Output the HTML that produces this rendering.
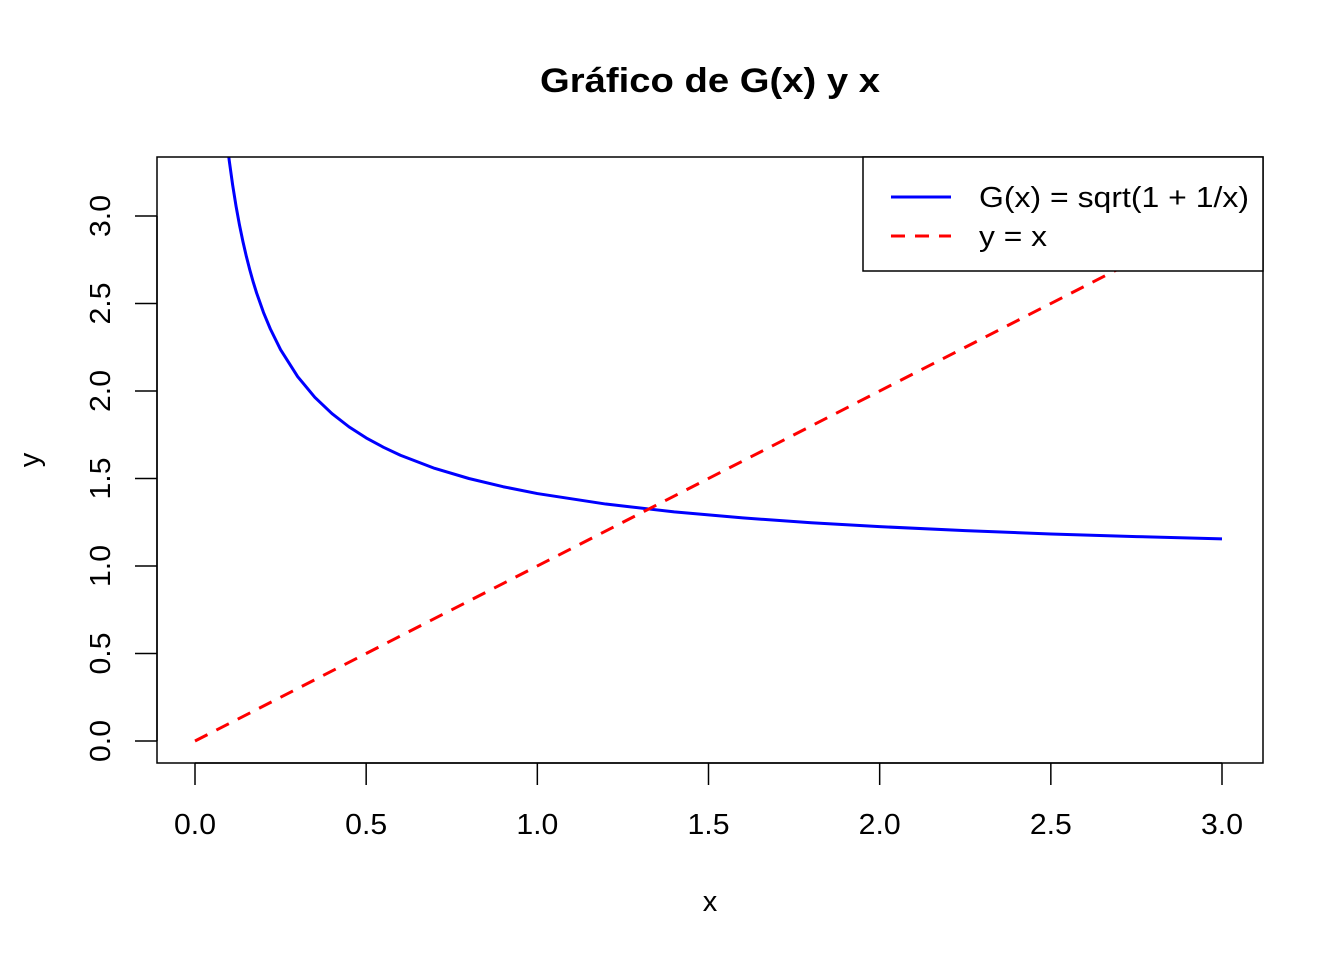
<!DOCTYPE html>
<html><head><meta charset="utf-8"><style>
html,body{margin:0;padding:0;background:#fff;}
svg{display:block;font-family:"Liberation Sans",Arial,sans-serif;}
</style></head><body>
<svg id="chart" width="1344" height="960" viewBox="0 0 1344 960" xmlns="http://www.w3.org/2000/svg">
<defs><clipPath id="plotclip"><rect x="157" y="157" width="1106" height="606"/></clipPath></defs>
<rect x="0" y="0" width="1344" height="960" fill="#fff"/>
<text x="710" y="92" text-anchor="middle" font-size="34" font-weight="bold" textLength="340" lengthAdjust="spacingAndGlyphs">Gráfico de G(x) y x</text>
<g id="series" clip-path="url(#plotclip)"></g>
<rect x="157" y="157" width="1106" height="606" fill="none" stroke="#000" stroke-width="1.5"/>
<g id="xaxis"></g>
<g id="yaxis"></g>
<text x="710" y="911" text-anchor="middle" font-size="29">x</text>
<text transform="translate(39,460) rotate(-90)" text-anchor="middle" font-size="29">y</text>
<g>
<rect x="863" y="157" width="400" height="114" fill="#fff" stroke="#000" stroke-width="1.5"/>
<line x1="891" y1="197" x2="951" y2="197" stroke="#0000ff" stroke-width="3"/>
<text x="979" y="207" font-size="29" textLength="270" lengthAdjust="spacingAndGlyphs">G(x) = sqrt(1 + 1/x)</text>
<line x1="891" y1="236" x2="951" y2="236" stroke="#ff0000" stroke-width="3" stroke-dasharray="14,10"/>
<text x="979" y="246" font-size="29" textLength="68" lengthAdjust="spacingAndGlyphs">y = x</text>
</g>
</svg>
<script>
const gxX = [0.09,0.1,0.11,0.12,0.13,0.14,0.15,0.16,0.17,0.18,0.2,0.22,0.25,0.3,0.35,0.4,0.45,0.5,0.55,0.6,0.7,0.8,0.9,1.0,1.2,1.4,1.6,1.8,2.0,2.25,2.5,2.75,3.0];
const gxY = [3.480,3.317,3.177,3.055,2.948,2.854,2.769,2.693,2.623,2.560,2.449,2.355,2.236,2.082,1.964,1.871,1.795,1.732,1.679,1.633,1.558,1.500,1.453,1.414,1.354,1.309,1.275,1.247,1.225,1.202,1.183,1.168,1.155];
const idX = [0,3];
const idY = [0,3];
const xTicks = [0,0.5,1,1.5,2,2.5,3];
const xTickLabels = ["0.0","0.5","1.0","1.5","2.0","2.5","3.0"];
const yTicks = [0,0.5,1,1.5,2,2.5,3];
const yTickLabels = ["0.0","0.5","1.0","1.5","2.0","2.5","3.0"];

const NS="http://www.w3.org/2000/svg";
function sx(v){return 195+v*(1222-195)/3;}
function sy(v){return 741-v*(741-216)/3;}
function mk(tag,attrs){const e=document.createElementNS(NS,tag);for(const k in attrs)e.setAttribute(k,attrs[k]);return e;}

const series=document.getElementById('series');
const p1=mk('polyline',{points:gxX.map((x,i)=>sx(x)+','+sy(gxY[i])).join(' '),fill:'none',stroke:'#0000ff','stroke-width':3,'stroke-linejoin':'round'});


series.appendChild(p1);
const p2=mk('polyline',{points:idX.map((x,i)=>sx(x)+','+sy(idY[i])).join(' '),fill:'none',stroke:'#ff0000','stroke-width':3,'stroke-dasharray':'14,10'});


series.appendChild(p2);

const xa=document.getElementById('xaxis');
const xl=mk('line',{x1:sx(xTicks[0]),y1:763,x2:sx(xTicks[xTicks.length-1]),y2:763,stroke:'#000','stroke-width':1.5});


xa.appendChild(xl);
xTicks.forEach((t,i)=>{
  const l=mk('line',{x1:sx(t),y1:763,x2:sx(t),y2:785,stroke:'#000','stroke-width':1.5});
  
  
  xa.appendChild(l);
  const tx=mk('text',{x:sx(t),y:834,'text-anchor':'middle','font-size':29,textLength:42,lengthAdjust:'spacingAndGlyphs'});
  
  
  tx.textContent=xTickLabels[i];
  xa.appendChild(tx);
});
const ya=document.getElementById('yaxis');
const yl=mk('line',{x1:157,y1:sy(yTicks[0]),x2:157,y2:sy(yTicks[yTicks.length-1]),stroke:'#000','stroke-width':1.5});


ya.appendChild(yl);
yTicks.forEach((t,i)=>{
  const l=mk('line',{x1:135,y1:sy(t),x2:157,y2:sy(t),stroke:'#000','stroke-width':1.5});
  
  
  ya.appendChild(l);
  const tx=mk('text',{transform:'translate(110,'+sy(t)+') rotate(-90)','text-anchor':'middle','font-size':29,textLength:42,lengthAdjust:'spacingAndGlyphs'});
  
  
  tx.textContent=yTickLabels[i];
  ya.appendChild(tx);
});
</script>
</body></html>
